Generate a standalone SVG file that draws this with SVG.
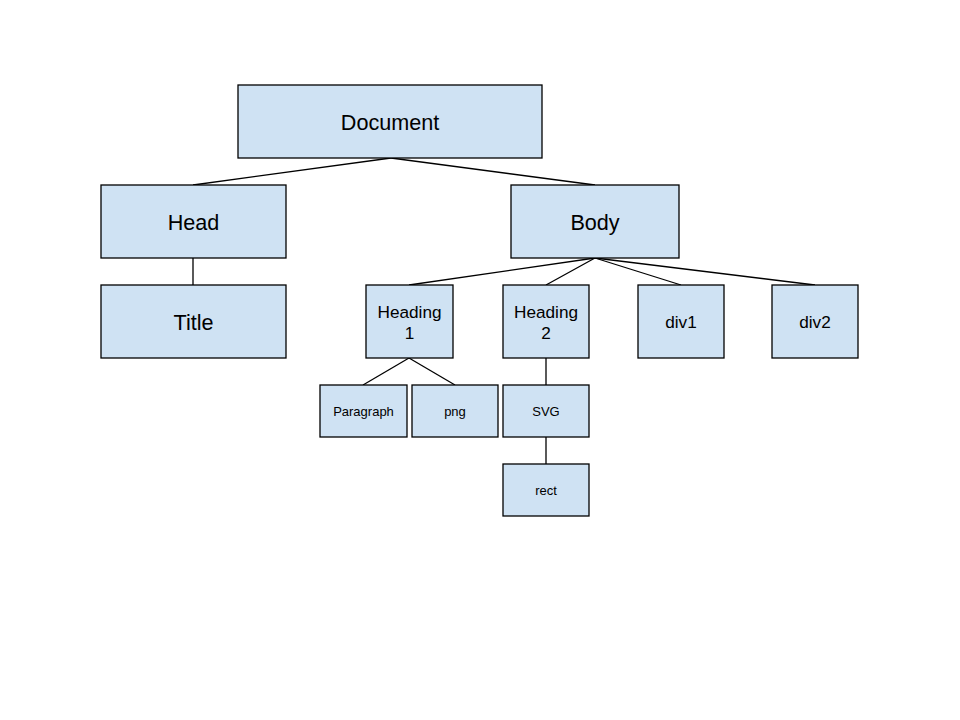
<svg xmlns="http://www.w3.org/2000/svg" width="960" height="720" viewBox="0 0 960 720">
<style>
rect.n{fill:#cfe2f3;stroke:#000;stroke-width:1.3}
text{font-family:"Liberation Sans",Arial,sans-serif;fill:#000;text-anchor:middle;dominant-baseline:central}
.l{font-size:21.6px}.m{font-size:17.2px}.s{font-size:13px}
#connectors line{stroke:#000;stroke-width:1.3}
</style>
<rect width="960" height="720" fill="#fff"/>
<g id="connectors">
<line x1="391" y1="158" x2="193" y2="185"/>
<line x1="391" y1="158" x2="595" y2="185"/>
<line x1="193" y1="258" x2="193" y2="285"/>
<line x1="595" y1="258" x2="409" y2="285"/>
<line x1="595" y1="258" x2="546" y2="285"/>
<line x1="595" y1="258" x2="681" y2="285"/>
<line x1="595" y1="258" x2="815" y2="285"/>
<line x1="409" y1="358" x2="363" y2="385"/>
<line x1="409" y1="358" x2="455" y2="385"/>
<line x1="546" y1="358" x2="546" y2="385"/>
<line x1="546" y1="437" x2="546" y2="464"/>
</g>
<g id="document"><rect class="n" x="238" y="85" width="304" height="73"/><text class="l" x="390" y="122">Document</text></g>
<g id="head"><rect class="n" x="101" y="185" width="185" height="73"/><text class="l" x="193.500" y="222">Head</text></g>
<g id="title"><rect class="n" x="101" y="285" width="185" height="73"/><text class="l" x="193.500" y="322">Title</text></g>
<g id="body"><rect class="n" x="511" y="185" width="168" height="73"/><text class="l" x="595" y="222">Body</text></g>
<g id="heading1"><rect class="n" x="366" y="285" width="87" height="73"/><text class="m" x="409.500" y="312">Heading</text><text class="m" x="409.500" y="333">1</text></g>
<g id="heading2"><rect class="n" x="503" y="285" width="86" height="73"/><text class="m" x="546" y="312">Heading</text><text class="m" x="546" y="333">2</text></g>
<g id="div1"><rect class="n" x="638" y="285" width="86" height="73"/><text class="m" x="681" y="322">div1</text></g>
<g id="div2"><rect class="n" x="772" y="285" width="86" height="73"/><text class="m" x="815" y="322">div2</text></g>
<g id="paragraph"><rect class="n" x="320" y="385" width="87" height="52"/><text class="s" x="363.500" y="411">Paragraph</text></g>
<g id="png"><rect class="n" x="412" y="385" width="86" height="52"/><text class="s" x="455" y="411">png</text></g>
<g id="svg"><rect class="n" x="503" y="385" width="86" height="52"/><text class="s" x="546" y="411">SVG</text></g>
<g id="rect"><rect class="n" x="503" y="464" width="86" height="52"/><text class="s" x="546" y="490">rect</text></g>
</svg>
